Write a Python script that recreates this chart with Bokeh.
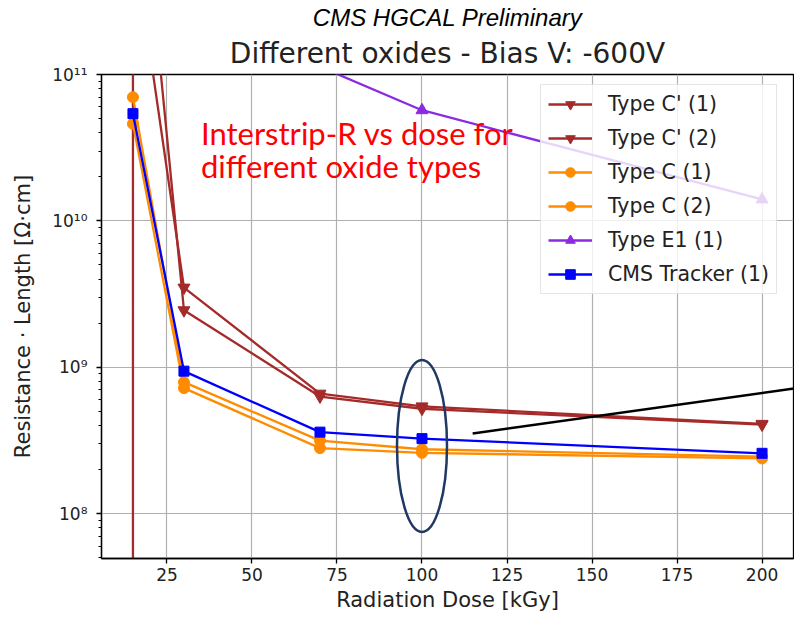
from bokeh.plotting import figure
from bokeh.models import (Range1d, FixedTicker, Legend, LegendItem, Title, Label,
                          ColumnDataSource)
from bokeh.embed import file_html
from bokeh.resources import INLINE

# ---------------- data ----------------
dose_cp1 = [15, 30, 70, 100, 200]
res_cp1 = [9.0e11, 3.5e9, 6.6e8, 5.4e8, 4.1e8]

dose_cp2 = [15, 15, 30, 70, 100, 200]
res_cp2 = [1.0e7, 9.0e12, 2.45e9, 6.3e8, 5.2e8, 4.05e8]

dose_c1 = [15, 30, 70, 100, 200]
res_c1 = [7.0e10, 7.9e8, 3.15e8, 2.75e8, 2.45e8]

dose_c2 = [15, 30, 70, 100, 200]
res_c2 = [4.6e10, 7.2e8, 2.8e8, 2.6e8, 2.38e8]

dose_e1 = [70, 100, 200]
res_e1 = [1.13e11, 5.7e10, 1.4e10]

dose_trk = [15, 30, 70, 100, 200]
res_trk = [5.4e10, 9.4e8, 3.6e8, 3.25e8, 2.58e8]

x_ticks = [25, 50, 75, 100, 125, 150, 175, 200]
y_ticks = [1e8, 1e9, 1e10, 1e11]
y_tick_labels = {1e8: "10⁸", 1e9: "10⁹", 1e10: "10¹⁰", 1e11: "10¹¹"}

# highlighted dose and the pointer line
highlight_dose = 100
pointer_x = [114.9, 209.4]
pointer_y = [3.52e8, 7.16e8]

series = [
    ("Type C' (1)", dose_cp1, res_cp1, "#a52a2a", "inverted_triangle", 12),
    ("Type C' (2)", dose_cp2, res_cp2, "#a52a2a", "inverted_triangle", 12),
    ("Type C (1)", dose_c1, res_c1, "#ff8c00", "circle", 11),
    ("Type C (2)", dose_c2, res_c2, "#ff8c00", "circle", 11),
    ("Type E1 (1)", dose_e1, res_e1, "#8a2be2", "triangle", 12),
    ("CMS Tracker (1)", dose_trk, res_trk, "#0000ff", "square", 10),
]

# ---------------- figure ----------------
p = figure(width=794, height=618, y_axis_type="log",
           x_range=Range1d(5.75, 209.25), y_range=Range1d(4.93e7, 1e11),
           output_backend="svg", toolbar_location=None, title=None,
           min_border_left=101, min_border_top=74, min_border_right=1,
           min_border_bottom=60)

p.background_fill_color = "white"
p.border_fill_color = "white"
p.outline_line_color = "black"
p.outline_line_width = 1.3

# grid
p.xgrid.ticker = FixedTicker(ticks=x_ticks)
p.ygrid.ticker = FixedTicker(ticks=y_ticks)
for g in (p.xgrid, p.ygrid):
    g.grid_line_color = "#b0b0b0"
    g.grid_line_width = 1.2

# axes
minor = []
for dec in [1e7, 1e8, 1e9, 1e10]:
    for k in range(2, 10):
        minor.append(k * dec)
p.xaxis.ticker = FixedTicker(ticks=x_ticks)
p.yaxis.ticker = FixedTicker(ticks=y_ticks, minor_ticks=minor)
p.yaxis.major_label_overrides = y_tick_labels

for ax in (p.xaxis, p.yaxis):
    ax.axis_line_color = "black"
    ax.axis_line_width = 1.3
    ax.major_tick_line_color = "black"
    ax.major_tick_line_width = 1.3
    ax.major_tick_out = 5
    ax.major_tick_in = 0
    ax.minor_tick_line_color = "black"
    ax.minor_tick_line_width = 1.0
    ax.minor_tick_out = 3
    ax.minor_tick_in = 0
    ax.major_label_text_font = "DejaVu Sans"
    ax.major_label_text_font_size = "17px"
    ax.major_label_text_color = "#222222"
    ax.axis_label_text_font = "DejaVu Sans"
    ax.axis_label_text_font_size = "21px"
    ax.axis_label_text_font_style = "normal"
    ax.axis_label_text_color = "#222222"

p.xaxis.major_label_standoff = 4
p.xaxis.axis_label = "Radiation Dose [kGy]"
p.xaxis.axis_label_standoff = 4
p.yaxis.major_label_standoff = 9
p.yaxis.axis_label = "Resistance · Length [Ω·cm]"
p.yaxis.axis_label_standoff = 14

# titles
p.add_layout(Title(text="Different oxides - Bias V: -600V", align="center",
                   text_font="DejaVu Sans", text_font_size="28px",
                   text_font_style="normal", text_color="#222222",
                   standoff=10), "above")
p.add_layout(Title(text="CMS HGCAL Preliminary", align="center",
                   text_font="Liberation Sans", text_font_size="24px",
                   text_font_style="italic", text_color="black",
                   standoff=-2), "above")

# series
items = []
for label, xs, ys, color, marker, size in series:
    src = ColumnDataSource(dict(x=xs, y=ys))
    lr = p.line("x", "y", source=src, line_color=color, line_width=2.3)
    sr = p.scatter("x", "y", source=src, marker=marker, size=size,
                   fill_color=color, line_color=color)
    items.append(LegendItem(label=label, renderers=[lr, sr]))

legend = Legend(items=items, location=(439, 264))
legend.label_text_font = "DejaVu Sans"
legend.label_text_font_size = "20.5px"
legend.label_text_color = "#222222"
legend.label_height = 24
legend.glyph_height = 24
legend.glyph_width = 44
legend.spacing = 10
legend.padding = 7
legend.margin = 0
legend.label_standoff = 16
legend.border_line_color = "#cccccc"
legend.border_line_width = 1.3
legend.background_fill_color = "white"
legend.background_fill_alpha = 0.8
p.add_layout(legend, "center")

# annotations: red note, ellipse, pointer line
p.add_layout(Label(x=35.0, y=3.97e10, text="Interstrip-R vs dose for",
                   text_font="Lato", text_font_size="31px", text_color="#ff0000",
                   text_baseline="alphabetic"))
p.add_layout(Label(x=35.0, y=2.36e10, text="different oxide types",
                   text_font="Lato", text_font_size="31px", text_color="#ff0000",
                   text_baseline="alphabetic"))

p.ellipse(x=[highlight_dose], y=[2.9e8], width=50, height=172,
          width_units="screen", height_units="screen",
          fill_color=None, line_color="#1f3864", line_width=2.5)
p.line(x=pointer_x, y=pointer_y, line_color="black", line_width=2.5)

open("out.html", "w").write(file_html(p, INLINE))
